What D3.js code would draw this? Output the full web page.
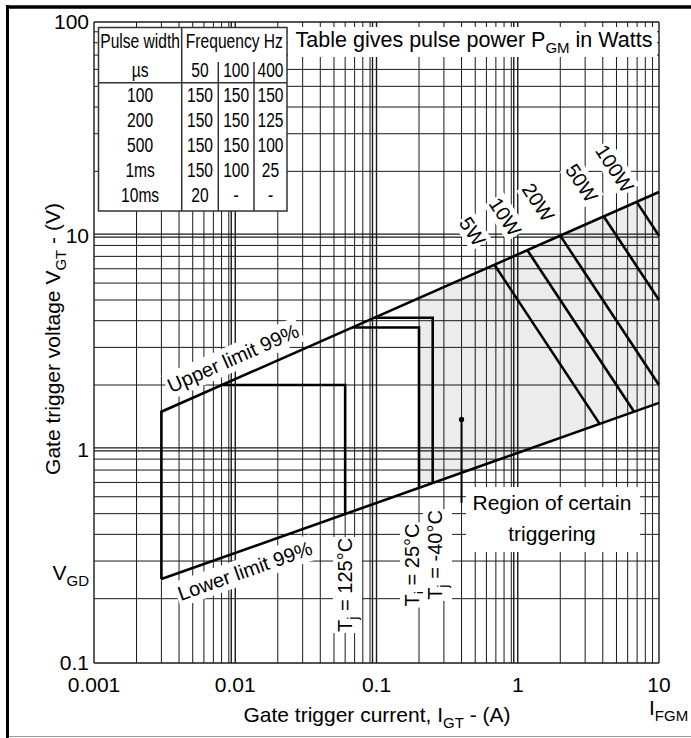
<!DOCTYPE html>
<html>
<head>
<meta charset="utf-8">
<script src="https://cdn.jsdelivr.net/npm/d3@7"></script>
<style>
body{margin:0;background:#fff;}
text{font-family:"Liberation Sans",Arial,sans-serif;fill:#000;}
</style>
</head>
<body>
<svg id="chart" width="691" height="738"></svg>
<script>
// ---- data ----
const upperLimit = [[0.003, 1.5], [10, 16]];     // [I (A), V (V)]
const lowerLimit = [[0.003, 0.247], [10, 1.65]];
const tempBoxes = [                               // corner of each Tj box
  {label: " = 125°C", i: 0.06, v: 2.0},
  {label: " = 25°C",  i: 0.2,  v: 3.72},
  {label: " = -40°C", i: 0.25, v: 4.13}
];
const powerWatts  = [5, 10, 20, 50, 100];
const powerLabels = ["5W", "10W", "20W", "50W", "100W"];
const xTicks = [0.001, 0.01, 0.1, 1, 10];
const xTickLabels = ["0.001", "0.01", "0.1", "1", "10"];
const yTicks = [0.1, 1, 10, 100];
const yTickLabels = ["0.1", "1", "10", "100"];
const regionPoint = [0.4, 1.38];

// pulse power table
const tableHead  = ["Pulse width", "Frequency Hz"];
const tableUnits = ["µs", "50", "100", "400"];
const pulseWidths = ["100", "200", "500", "1ms", "10ms"];
const power50Hz   = ["150", "150", "150", "150", "20"];
const power100Hz  = ["150", "150", "150", "100", "-"];
const power400Hz  = ["150", "125", "100", "25", "-"];

const svg = d3.select("#chart");
const x = d3.scaleLog().domain([xTicks[0], xTicks[xTicks.length - 1]]).range([94, 659]);
const y = d3.scaleLog().domain([yTicks[0], yTicks[yTicks.length - 1]]).range([663, 22]);

//helpers on a straight line in log-log space
function valueAt(lim, i){
  const [[i0, v0], [i1, v1]] = lim;
  return v0 * Math.pow(v1 / v0, Math.log(i / i0) / Math.log(i1 / i0));
}
function currentAt(lim, v){
  const [[i0, v0], [i1, v1]] = lim;
  return i0 * Math.pow(i1 / i0, Math.log(v / v0) / Math.log(v1 / v0));
}
function powerHit(lim, p){
  const [[i0, v0], [i1, v1]] = lim;
  const b = Math.log(v1 / v0) / Math.log(i1 / i0);
  return Math.exp((Math.log(p) - Math.log(v0) + b * Math.log(i0)) / (1 + b));
}
const iMax = xTicks[xTicks.length - 1];
const line = d3.line().x(d => x(d[0])).y(d => y(d[1]));

// shaded region of certain triggering
const gateI = tempBoxes[1].i;
const region = [
  [gateI, valueAt(upperLimit, gateI)], upperLimit[1], lowerLimit[1],
  [gateI, valueAt(lowerLimit, gateI)]
];
svg.append("path").attr("d", line(region) + "Z").attr("fill", "#ececec");

// grid: inner decades drawn as a double rule like the printed sheet
const grid = svg.append("g").attr("stroke", "#1a1a1a");
const isDecade = v => Math.abs(Math.log10(v) - Math.round(Math.log10(v))) < 1e-9;
const [xa, xb] = x.domain(), [ya, yb] = y.domain();
x.ticks().forEach(d => {
  const inner = isDecade(d) && d > xa && d < xb;
  const offs = inner ? [0, -4] : [0];
  offs.forEach(o => grid.append("line")
    .attr("x1", x(d) + o).attr("x2", x(d) + o)
    .attr("y1", y.range()[0]).attr("y2", y.range()[1])
    .attr("stroke-width", isDecade(d) ? 1.4 : 1));
});
y.ticks().forEach(d => {
  const inner = isDecade(d) && d > ya && d < yb;
  const offs = inner ? [-1.5, 1.5] : [0];
  offs.forEach(o => grid.append("line")
    .attr("y1", y(d) + o).attr("y2", y(d) + o)
    .attr("x1", x.range()[0]).attr("x2", x.range()[1])
    .attr("stroke-width", isDecade(d) ? 1.4 : 1));
});

// limit lines
const curves = svg.append("g").attr("fill", "none").attr("stroke", "#000").attr("stroke-width", 2.6);
curves.append("path").attr("d", line([lowerLimit[0], upperLimit[0], upperLimit[1]]));
curves.append("path").attr("d", line(lowerLimit));
tempBoxes.forEach(b => {
  curves.append("path").attr("d", line([
    [currentAt(upperLimit, b.v), b.v], [b.i, b.v], [b.i, valueAt(lowerLimit, b.i)]
  ]));
});
// power lines
const powerSeg = powerWatts.map(p => {
  const s = powerHit(upperLimit, p);
  const e = Math.min(powerHit(lowerLimit, p), iMax);
  return [[s, p / s], [e, p / e]];
});
curves.selectAll(".pw").data(powerSeg).enter().append("path").attr("d", d => line(d));

// labels with white backing
function boxed(px, py, angle, build, size, pad){
  const g = svg.append("g").attr("transform", `translate(${px},${py}) rotate(${angle})`);
  const bg = g.append("rect").attr("fill", "#fff");
  const t = g.append("text").attr("text-anchor", "middle").style("font-size", (size || 20) + "px");
  build(t);
  const bb = t.node().getBBox();
  const p = pad === undefined ? 2 : pad;
  bg.attr("x", bb.x - p).attr("y", bb.y - p).attr("width", bb.width + 2 * p).attr("height", bb.height + 2 * p);
  return g;
}
function sub(t, main, s, rest){
  t.append("tspan").text(main);
  t.append("tspan").attr("dy", 6).style("font-size", "15px").text(s);
  if (rest) t.append("tspan").attr("dy", -6).text(rest);
}

const deg = 180 / Math.PI;
const upAng = Math.atan2(y(upperLimit[1][1]) - y(upperLimit[0][1]), x(upperLimit[1][0]) - x(upperLimit[0][0]));
const loAng = Math.atan2(y(lowerLimit[1][1]) - y(lowerLimit[0][1]), x(lowerLimit[1][0]) - x(lowerLimit[0][0]));
{
  const i = 0.011, px = x(i), py = y(valueAt(upperLimit, i));
  boxed(px + 20 * Math.sin(upAng), py - 20 * Math.cos(upAng), upAng * deg,
    t => t.attr("dy", "0.35em").text("Upper limit 99%"));
}
{
  const i = 0.0105, px = x(i), py = y(valueAt(lowerLimit, i));
  boxed(px - 20 * Math.sin(loAng), py + 20 * Math.cos(loAng), loAng * deg,
    t => t.attr("dy", "0.35em").text("Lower limit 99%"));
}

// power labels along each line, above the upper limit
const pAng = Math.atan2(y(1) - y(10), x(10) - x(1));
powerSeg.forEach((s, k) => {
  const px = x(s[0][0]), py = y(s[0][1]);
  boxed(px - 40 * Math.cos(pAng), py - 40 * Math.sin(pAng), pAng * deg,
    t => t.attr("dy", "0.35em").text(powerLabels[k]), 20, 1);
});

// junction temperature labels
const tjPos = [[352, 585], [419, 565], [442, 555]];
tempBoxes.forEach((b, k) => {
  boxed(tjPos[k][0], tjPos[k][1], -90, t => sub(t, "T", "j", b.label), 20, 1);
});

// region of certain triggering
svg.append("line")
  .attr("x1", x(regionPoint[0])).attr("x2", x(regionPoint[0]))
  .attr("y1", y(regionPoint[1])).attr("y2", 503)
  .attr("stroke", "#000").attr("stroke-width", 2);
svg.append("circle").attr("cx", x(regionPoint[0])).attr("cy", y(regionPoint[1])).attr("r", 2.6);
svg.append("rect").attr("x", 466).attr("y", 487).attr("width", 174).attr("height", 65).attr("fill", "#fff");
svg.append("text").attr("x", 552).attr("y", 510).attr("text-anchor", "middle")
  .style("font-size", "21px").text("Region of certain");
svg.append("text").attr("x", 552).attr("y", 541).attr("text-anchor", "middle")
  .style("font-size", "21px").text("triggering");

// axes labels
svg.selectAll(".xt").data(xTicks).enter().append("text")
  .attr("x", d => x(d)).attr("y", 692).attr("text-anchor", "middle")
  .style("font-size", "21px").text((d, i) => xTickLabels[i]);
svg.selectAll(".yt").data(yTicks).enter().append("text")
  .attr("x", 89).attr("y", d => y(d)).attr("dy", "0.35em").attr("text-anchor", "end")
  .style("font-size", "21px").text((d, i) => yTickLabels[i]);
{
  const t = svg.append("text").attr("x", 89).attr("y", y(valueAt(lowerLimit, lowerLimit[0][0])) + 1)
    .attr("text-anchor", "end").style("font-size", "21px");
  sub(t, "V", "GD");
}
{
  const t = svg.append("text").attr("x", 649).attr("y", 715).style("font-size", "21px");
  sub(t, "I", "FGM");
}
{
  const t = svg.append("text").attr("x", 377).attr("y", 722).attr("text-anchor", "middle").style("font-size", "21px");
  sub(t, "Gate trigger current, I", "GT", " - (A)");
}
{
  const t = svg.append("text").attr("transform", "translate(60,339) rotate(-90)")
    .attr("text-anchor", "middle").style("font-size", "21px");
  sub(t, "Gate trigger voltage V", "GT", " - (V)");
}

// table caption
svg.append("rect").attr("x", 288).attr("y", 27).attr("width", 369).attr("height", 30).attr("fill", "#fff");
{
  const t = svg.append("text").attr("x", 474).attr("y", 47).attr("text-anchor", "middle").style("font-size", "21.5px");
  sub(t, "Table gives pulse power P", "GM", " in Watts");
}

// pulse power table
const tb = svg.append("g");
const cols = [98.5, 181.7, 218.3, 254, 287];
const tTop = 27.5, tBottom = 211;
tb.append("rect").attr("x", cols[0]).attr("y", tTop).attr("width", cols[4] - cols[0]).attr("height", tBottom - tTop)
  .attr("fill", "#fff").attr("stroke", "#333").attr("stroke-width", 1.5);
tb.append("line").attr("x1", cols[1]).attr("x2", cols[1]).attr("y1", tTop).attr("y2", tBottom).attr("stroke", "#333").attr("stroke-width", 1.5);
[cols[2], cols[3]].forEach(c => tb.append("line").attr("x1", c).attr("x2", c).attr("y1", 62).attr("y2", tBottom)
  .attr("stroke", "#333").attr("stroke-width", 1.5));
tb.append("line").attr("x1", cols[0]).attr("x2", cols[4]).attr("y1", 82.7).attr("y2", 82.7).attr("stroke", "#333").attr("stroke-width", 1.5);
function cell(txt, cx, by){
  tb.append("text").attr("transform", `translate(${cx},${by}) scale(0.8,1)`)
    .attr("text-anchor", "middle").style("font-size", "19.5px").text(txt);
}
const mid = k => (cols[k] + cols[k + 1]) / 2;
cell(tableHead[0], mid(0), 48.3);
cell(tableHead[1], (cols[1] + cols[4]) / 2, 48.3);
tableUnits.forEach((u, k) => cell(u, mid(k), 76.5));
pulseWidths.forEach((w, r) => {
  const by = 101.7 + r * 25;
  cell(w, mid(0), by);
  cell(power50Hz[r], mid(1), by);
  cell(power100Hz[r], mid(2), by);
  cell(power400Hz[r], mid(3), by);
});

// outer frame
svg.append("line").attr("x1", 6).attr("x2", 691).attr("y1", 7).attr("y2", 7).attr("stroke", "#000").attr("stroke-width", 3.5);
svg.append("line").attr("x1", 7.5).attr("x2", 7.5).attr("y1", 5).attr("y2", 738).attr("stroke", "#000").attr("stroke-width", 3);
svg.append("line").attr("x1", 9).attr("x2", 691).attr("y1", 736.5).attr("y2", 736.5).attr("stroke", "#999").attr("stroke-width", 1);
</script>
</body>
</html>
